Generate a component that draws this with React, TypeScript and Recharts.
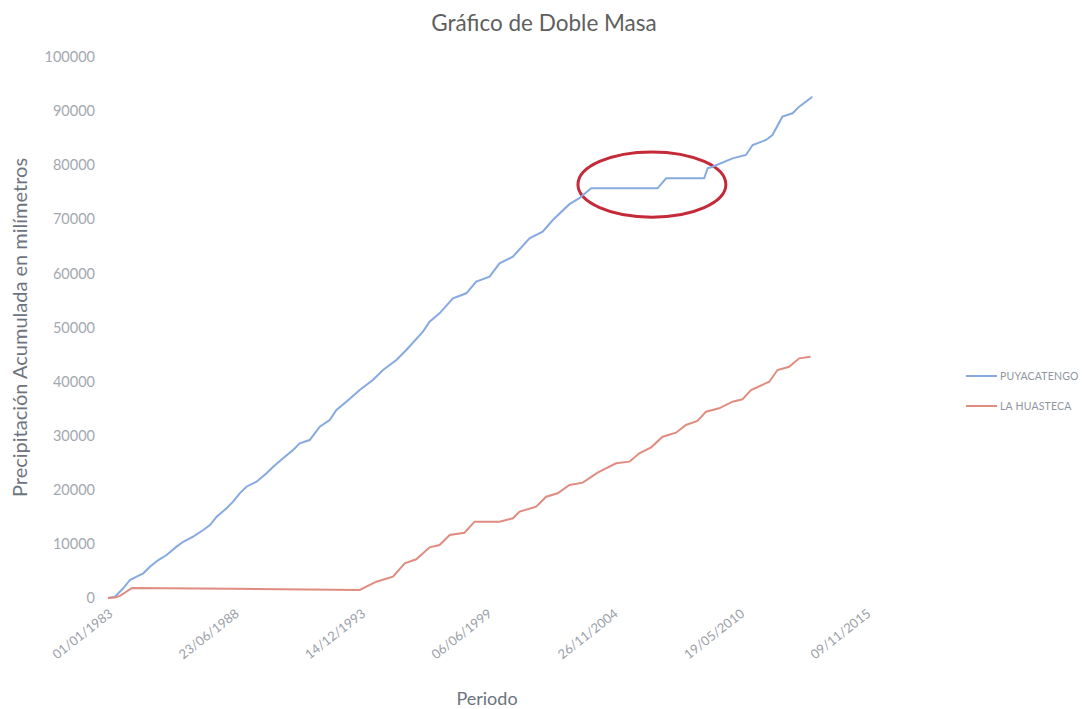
import { Line, LineChart, ReferenceArea, XAxis, YAxis } from "recharts";

// Años decimales y precipitación acumulada (mm)
const aniosPuyacatengo = [
  1983.0, 1983.3, 1983.66, 1983.95, 1984.24, 1984.53, 1984.82, 1985.18, 1985.54, 1985.97,
  1986.26, 1986.69, 1987.13, 1987.42, 1987.71, 1988.14, 1988.42, 1988.71, 1989.0, 1989.44,
  1989.87, 1990.16, 1990.59, 1991.02, 1991.31, 1991.74, 1992.18, 1992.61, 1992.9, 1993.33,
  1993.91, 1994.48, 1994.92, 1995.5, 1995.93, 1996.65, 1996.94, 1997.37, 1997.95, 1998.53,
  1998.96, 1999.54, 1999.97, 2000.55, 2001.27, 2001.84, 2002.28, 2003.0, 2003.43, 2003.94,
  2006.82, 2007.19, 2008.84, 2008.99, 2009.2, 2010.07, 2010.65, 2010.94, 2011.52, 2011.8,
  2012.23, 2012.67, 2012.96, 2013.53,
];
const puyacatengo = [
  0, 240, 1790, 3330, 3940, 4560, 5790, 7020, 7950, 9490,
  10400, 11330, 12570, 13490, 15030, 16580, 17800, 19350, 20570, 21500,
  23050, 24270, 25820, 27360, 28600, 29200, 31660, 32900, 34750, 36290,
  38450, 40300, 42140, 44000, 45840, 49230, 51070, 52620, 55390, 56320,
  58470, 59400, 61870, 63090, 66490, 67710, 69870, 72800, 73900, 75730,
  75730, 77580, 77580, 79430, 79720, 81270, 81890, 83730, 84660, 85580,
  88970, 89590, 90820, 92660,
];

const aniosHuasteca = [
  1983.0, 1983.3, 1983.52, 1984.04, 1988.42, 1993.91, 1994.63, 1995.35, 1995.86, 1996.36,
  1996.94, 1997.37, 1997.81, 1998.45, 1998.89, 1999.97, 2000.55, 2000.84, 2001.56, 2001.99,
  2002.49, 2003.0, 2003.58, 2004.22, 2005.02, 2005.6, 2006.03, 2006.54, 2007.04, 2007.62,
  2008.05, 2008.55, 2008.92, 2009.49, 2010.07, 2010.5, 2010.87, 2011.66, 2012.02, 2012.52,
  2012.96, 2013.45,
];
const laHuasteca = [
  0, 100, 400, 1850, 1700, 1500, 3010, 3940, 6410, 7150,
  9370, 9800, 11650, 12070, 14110, 14110, 14730, 15960, 16880, 18720,
  19350, 20890, 21320, 23170, 24900, 25200, 26750, 27850, 29820, 30560,
  31980, 32720, 34440, 35060, 36290, 36720, 38450, 39980, 42140, 42750,
  44300, 44600,
];

const ticksX = [0, 2000, 4000, 6000, 8000, 10000, 12000];
const ticksY = [0, 10000, 20000, 30000, 40000, 50000, 60000, 70000, 80000, 90000, 100000];

// zona marcada con la elipse roja (años, mm)
const marcaAnios = [2003.37, 2009.78];
const marcaMm = [70400, 82450];

const series = [
  { nombre: "PUYACATENGO", color: "#86aadf" },
  { nombre: "LA HUASTECA", color: "#e08c80" },
];

const aDias = (anio: number) => (anio - 1983) * 365.25;

const serieP = aniosPuyacatengo.map((a, i) => ({ d: aDias(a), v: puyacatengo[i] }));
const serieH = aniosHuasteca.map((a, i) => ({ d: aDias(a), v: laHuasteca[i] }));

const fmtFecha = (d: number) => {
  const f = new Date(Date.UTC(1983, 0, 1) + Math.round(d) * 86400000);
  const dd = String(f.getUTCDate()).padStart(2, "0");
  const mm = String(f.getUTCMonth() + 1).padStart(2, "0");
  return `${dd}/${mm}/${f.getUTCFullYear()}`;
};

const FONT = "Lato, 'Open Sans', sans-serif";

const Elipse = (p: any) => (
  <ellipse
    cx={p.x + p.width / 2}
    cy={p.y + p.height / 2}
    rx={p.width / 2}
    ry={p.height / 2}
    fill="none"
    stroke="#c42a38"
    strokeWidth={3}
  />
);

export default function App() {
  return (
    <div style={{ position: "relative", width: 1080, height: 701, fontFamily: FONT, background: "#fff" }}>
      <div
        style={{
          position: "absolute",
          top: 1,
          left: 0,
          width: 1072,
          textAlign: "center",
          fontSize: 22.5,
          color: "#5f5f5f",
          fontFamily: FONT,
        }}
      >
        Gráfico de Doble Masa
      </div>
      <div style={{ position: "absolute", left: 958, top: 353, fontSize: 10.5, color: "#8f959e", letterSpacing: 0.2, whiteSpace: "nowrap" }}>
        {series.map((s) => (
          <div key={s.nombre} style={{ display: "flex", alignItems: "center", height: 30 }}>
            <span style={{ display: "inline-block", width: 31, height: 2, background: s.color, marginRight: 3 }} />
            {s.nombre}
          </div>
        ))}
      </div>
      <LineChart width={1080} height={701} margin={{ top: 49, right: 222, bottom: 0, left: 0 }}>
        <XAxis
          type="number"
          dataKey="d"
          domain={[0, 12000]}
          ticks={ticksX}
          tickFormatter={fmtFecha}
          height={111}
          axisLine={false}
          tickLine={false}
          tickSize={0}
          tickMargin={10}
          angle={-38}
          textAnchor="end"
          tick={{ fill: "#9aa0a8", fontSize: 13, fontFamily: FONT }}
          label={{ value: "Periodo", position: "insideBottom", offset: 4, fill: "#6d7480", fontSize: 18, fontFamily: FONT }}
        />
        <YAxis
          type="number"
          domain={[0, 100000]}
          ticks={ticksY}
          width={100}
          axisLine={false}
          tickLine={false}
          tickSize={0}
          tickMargin={13}
          tick={{ fill: "#a3a8b0", fontSize: 14.5, fontFamily: FONT }}
          label={{
            value: "Precipitación Acumulada en milímetros",
            angle: -90,
            position: "insideLeft",
            offset: 12,
            fill: "#6d7480",
            fontSize: 20,
            fontFamily: FONT,
            style: { textAnchor: "middle" },
          }}
        />
        <Line
          data={serieP}
          dataKey="v"
          name={series[0].nombre}
          type="linear"
          stroke={series[0].color}
          strokeWidth={2}
          dot={false}
          isAnimationActive={false}
        />
        <Line
          data={serieH}
          dataKey="v"
          name={series[1].nombre}
          type="linear"
          stroke={series[1].color}
          strokeWidth={2}
          dot={false}
          isAnimationActive={false}
        />
        <ReferenceArea
          x1={aDias(marcaAnios[0])}
          x2={aDias(marcaAnios[1])}
          y1={marcaMm[0]}
          y2={marcaMm[1]}
          ifOverflow="visible"
          shape={Elipse}
        />
      </LineChart>
    </div>
  );
}
